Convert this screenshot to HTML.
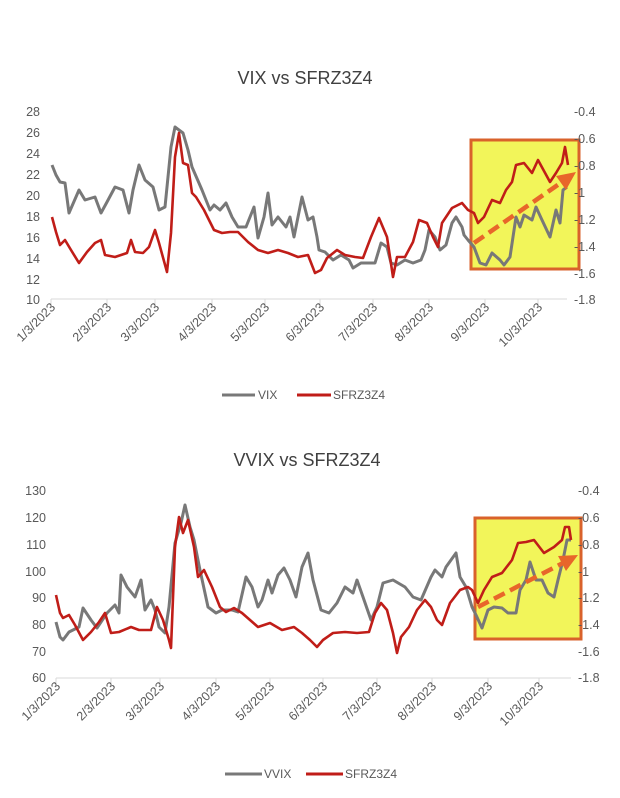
<!DOCTYPE html>
<html><head><meta charset="utf-8"><style>
html,body{margin:0;padding:0;background:#fff;}
svg{display:block;font-family:"Liberation Sans",sans-serif;}
.t{font-size:18px;fill:#404040;text-anchor:middle;}
.yl{font-size:12.5px;fill:#595959;text-anchor:end;}
.yr{font-size:12.5px;fill:#595959;text-anchor:start;}
.xl{font-size:12.5px;fill:#595959;text-anchor:end;}
.lg{font-size:12px;fill:#595959;}
.g{fill:none;stroke:#787878;stroke-width:3;stroke-linejoin:round;}
.r{fill:none;stroke:#c01d18;stroke-width:2.6;stroke-linejoin:round;}
</style></head><body>
<svg width="620" height="798" viewBox="0 0 620 798">
<rect width="620" height="798" fill="#fff"/>
<!-- TOP CHART -->
<text class="t" x="305" y="84">VIX vs SFRZ3Z4</text>
<g class="yl">
<text x="40" y="116">28</text><text x="40" y="137">26</text><text x="40" y="158">24</text><text x="40" y="179">22</text><text x="40" y="200">20</text><text x="40" y="221">18</text><text x="40" y="242">16</text><text x="40" y="263">14</text><text x="40" y="284">12</text><text x="40" y="304">10</text>
</g>
<line x1="51" y1="299" x2="567" y2="299" stroke="#d9d9d9" stroke-width="1"/>
<g stroke="#d9d9d9"><line x1="51" y1="299" x2="51" y2="304"/><line x1="107" y1="299" x2="107" y2="304"/><line x1="155" y1="299" x2="155" y2="304"/><line x1="212" y1="299" x2="212" y2="304"/><line x1="265" y1="299" x2="265" y2="304"/><line x1="320" y1="299" x2="320" y2="304"/><line x1="373" y1="299" x2="373" y2="304"/><line x1="429" y1="299" x2="429" y2="304"/><line x1="485" y1="299" x2="485" y2="304"/><line x1="538" y1="299" x2="538" y2="304"/></g>
<g class="xl">
<text transform="translate(56,308) rotate(-45)">1/3/2023</text>
<text transform="translate(112,308) rotate(-45)">2/3/2023</text>
<text transform="translate(160,308) rotate(-45)">3/3/2023</text>
<text transform="translate(217,308) rotate(-45)">4/3/2023</text>
<text transform="translate(270,308) rotate(-45)">5/3/2023</text>
<text transform="translate(325,308) rotate(-45)">6/3/2023</text>
<text transform="translate(378,308) rotate(-45)">7/3/2023</text>
<text transform="translate(434,308) rotate(-45)">8/3/2023</text>
<text transform="translate(490,308) rotate(-45)">9/3/2023</text>
<text transform="translate(543,308) rotate(-45)">10/3/2023</text>
</g>
<rect x="471" y="140" width="108" height="129" fill="#f2f55a" stroke="#d9622b" stroke-width="3"/>
<g class="yr">
<text x="574" y="116">-0.4</text><text x="574" y="143">-0.6</text><text x="574" y="170">-0.8</text><text x="574" y="197">-1</text><text x="574" y="224">-1.2</text><text x="574" y="251">-1.4</text><text x="574" y="278">-1.6</text><text x="574" y="304">-1.8</text>
</g>
<polyline class="g" points="52,165 56,175 60,182 65,183 69,213 79,190 85,200 95,197 101,213 107,202 115,187 123,190 129,213 133,190 139,165 145,180 153,187 159,210 165,207 171,147 175,127 183,133 188,150 192,167 202,190 210,210 214,205 220,210 226,203 232,217 238,227 246,227 254,207 258,238 264,217 268,193 272,225 278,217 286,227 290,217 294,237 302,197 308,220 313,217 317,237 319,250 325,252 333,260 341,255 349,260 353,268 361,263 369,263 375,263 381,243 387,247 391,263 397,265 405,260 413,263 421,260 425,250 429,230 435,237 440,250 446,245 452,223 456,217 462,227 464,235 468,240 474,247 480,263 486,265 492,253 500,260 504,265 510,257 516,217 520,227 524,215 532,220 536,207 542,220 550,237 556,210 560,223 563,190 567,187"/>
<polyline class="r" points="52,217 56,232 60,245 65,240 71,250 79,263 87,252 95,243 101,240 105,255 115,257 127,253 131,240 135,252 143,253 149,247 155,230 159,243 167,272 171,233 175,157 179,133 183,163 188,165 192,193 196,197 204,210 214,230 222,233 230,232 238,232 248,242 258,250 268,253 278,250 288,253 298,257 308,255 315,273 321,270 327,258 337,250 345,255 355,257 363,258 371,237 379,218 387,237 393,277 397,257 405,257 413,242 419,220 427,223 433,237 438,247 442,223 452,208 462,203 468,210 474,213 478,223 484,217 492,200 500,203 506,190 512,182 516,165 524,163 532,173 538,160 550,182 556,173 562,163 565,147 568,165"/>
<line x1="474" y1="243" x2="562" y2="182" stroke="#e8662a" stroke-width="4.5" stroke-dasharray="12,6"/>
<polygon points="576,172 556,176 566,190" fill="#e8662a"/>
<line x1="222" y1="395" x2="255" y2="395" stroke="#787878" stroke-width="3"/>
<text class="lg" x="258" y="399">VIX</text>
<line x1="297" y1="395" x2="331" y2="395" stroke="#c01d18" stroke-width="3"/>
<text class="lg" x="333" y="399">SFRZ3Z4</text>

<!-- BOTTOM CHART -->
<text class="t" x="307" y="466">VVIX vs SFRZ3Z4</text>
<g class="yl">
<text x="46" y="495">130</text><text x="46" y="522">120</text><text x="46" y="549">110</text><text x="46" y="576">100</text><text x="46" y="602">90</text><text x="46" y="629">80</text><text x="46" y="656">70</text><text x="46" y="682">60</text>
</g>
<line x1="56" y1="678" x2="571" y2="678" stroke="#d9d9d9" stroke-width="1"/>
<g stroke="#d9d9d9"><line x1="56" y1="678" x2="56" y2="683"/><line x1="111" y1="678" x2="111" y2="683"/><line x1="160" y1="678" x2="160" y2="683"/><line x1="216" y1="678" x2="216" y2="683"/><line x1="270" y1="678" x2="270" y2="683"/><line x1="323" y1="678" x2="323" y2="683"/><line x1="377" y1="678" x2="377" y2="683"/><line x1="432" y1="678" x2="432" y2="683"/><line x1="488" y1="678" x2="488" y2="683"/><line x1="539" y1="678" x2="539" y2="683"/></g>
<g class="xl">
<text transform="translate(61,687) rotate(-45)">1/3/2023</text>
<text transform="translate(116,687) rotate(-45)">2/3/2023</text>
<text transform="translate(165,687) rotate(-45)">3/3/2023</text>
<text transform="translate(221,687) rotate(-45)">4/3/2023</text>
<text transform="translate(275,687) rotate(-45)">5/3/2023</text>
<text transform="translate(328,687) rotate(-45)">6/3/2023</text>
<text transform="translate(382,687) rotate(-45)">7/3/2023</text>
<text transform="translate(437,687) rotate(-45)">8/3/2023</text>
<text transform="translate(493,687) rotate(-45)">9/3/2023</text>
<text transform="translate(544,687) rotate(-45)">10/3/2023</text>
</g>
<rect x="475" y="518" width="106" height="121" fill="#f2f55a" stroke="#d9622b" stroke-width="3"/>
<g class="yr">
<text x="578" y="495">-0.4</text><text x="578" y="522">-0.6</text><text x="578" y="549">-0.8</text><text x="578" y="576">-1</text><text x="578" y="602">-1.2</text><text x="578" y="629">-1.4</text><text x="578" y="656">-1.6</text><text x="578" y="682">-1.8</text>
</g>
<polyline class="g" points="56,622 60,637 63,640 69,632 79,627 83,608 91,620 97,628 107,613 115,605 119,613 121,575 127,587 135,597 141,580 145,610 151,600 155,610 159,627 165,633 169,607 175,543 181,523 185,505 190,527 194,540 200,570 208,607 216,613 222,610 232,610 238,612 246,577 252,587 258,607 262,600 268,580 272,593 278,575 284,568 290,580 296,597 302,567 308,553 313,580 321,610 329,613 337,603 345,587 353,593 357,580 363,597 371,620 377,607 383,583 393,580 405,587 413,597 421,600 431,577 435,570 442,577 446,567 456,553 460,577 466,587 472,607 476,615 482,628 488,610 494,607 502,608 508,613 516,613 520,590 526,580 530,562 536,580 542,580 548,593 554,597 558,580 563,560 567,540 571,540"/>
<polyline class="r" points="56,595 60,613 63,618 69,615 75,625 83,640 91,632 99,622 105,613 111,633 119,632 131,627 139,630 151,630 157,607 163,620 169,640 171,648 175,547 179,517 183,533 188,520 194,547 198,577 204,570 212,587 220,607 226,612 234,608 242,613 250,620 258,627 270,623 282,630 294,627 302,633 310,640 317,647 323,640 333,633 345,632 357,633 369,632 375,613 381,603 387,610 393,633 397,653 401,637 409,627 417,610 425,600 431,607 437,620 442,625 450,603 460,590 468,587 472,590 478,603 484,590 492,577 502,573 512,560 518,543 526,542 534,540 544,553 554,547 562,540 565,527 569,527 571,540"/>
<line x1="478" y1="607" x2="563" y2="563" stroke="#e8662a" stroke-width="4.5" stroke-dasharray="12,6"/>
<polygon points="578,555 558,556 566,571" fill="#e8662a"/>
<line x1="225" y1="774" x2="262" y2="774" stroke="#787878" stroke-width="3"/>
<text class="lg" x="264" y="778">VVIX</text>
<line x1="306" y1="774" x2="343" y2="774" stroke="#c01d18" stroke-width="3"/>
<text class="lg" x="345" y="778">SFRZ3Z4</text>
</svg>
</body></html>
